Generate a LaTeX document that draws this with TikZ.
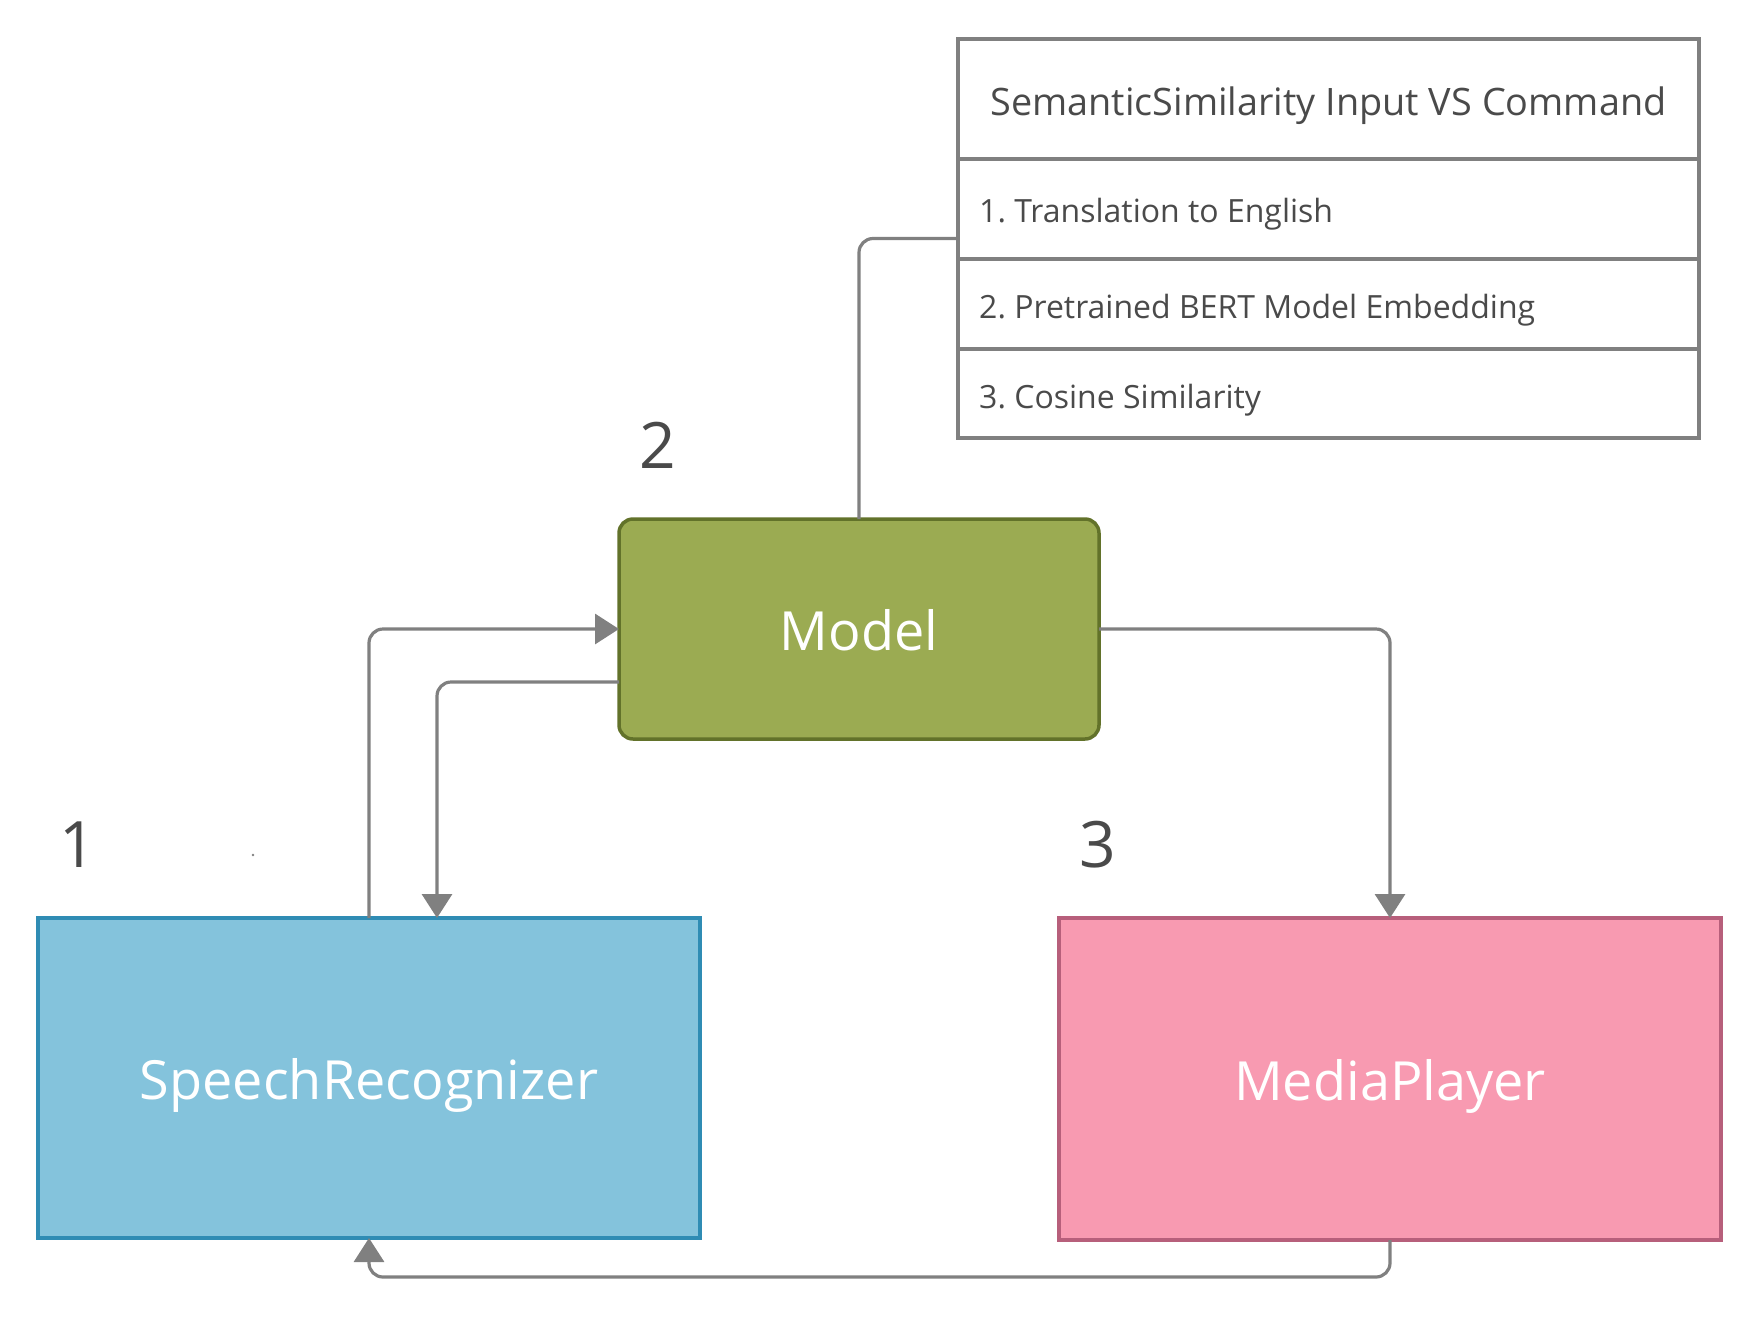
\documentclass[tikz,border=0pt]{standalone}
\usepackage{fontspec}
\setmainfont{Open Sans}
\usetikzlibrary{arrows.meta}
\definecolor{lnc}{HTML}{808080}
\definecolor{txc}{HTML}{4A4A4A}
\definecolor{srfill}{HTML}{84C3DC}
\definecolor{srdraw}{HTML}{2F8CB4}
\definecolor{mofill}{HTML}{9BAB52}
\definecolor{modraw}{HTML}{62722A}
\definecolor{mpfill}{HTML}{F89AB1}
\definecolor{mpdraw}{HTML}{B75F7B}
\frenchspacing
\tikzset{
  box/.style={draw, line width=3.5pt, inner sep=0pt, outer sep=0pt, text=white,
    font=\fontsize{54}{60}\selectfont},
  rowbox/.style={draw=lnc, line width=3.2pt, inner sep=0pt, outer sep=0pt,
    minimum width=741pt, anchor=north west},
  rowtxt/.style={text=txc, anchor=west, inner sep=0pt, font=\fontsize{32}{36}\selectfont},
  conn/.style={draw=lnc, line width=3.2pt, rounded corners=14pt},
  arr/.style={conn, -{Triangle[length=24pt,width=30pt]}},
  numlab/.style={text=txc, font=\fontsize{64}{70}\selectfont, inner sep=0pt},
}
\begin{document}
\begin{tikzpicture}[x=1pt,y=-1pt]
\useasboundingbox (0,0) rectangle (1760,1320);
% table
\node[draw=lnc, line width=3.2pt, inner sep=0pt, outer sep=0pt, minimum width=741pt, minimum height=399pt] (tbl) at (1328.5,238.5) {};
\node[rowbox, minimum height=120pt] (ttl) at (958,39) {};
\node[rowbox, minimum height=100pt] (r1) at (958,159) {};
\node[rowbox, minimum height=90pt] (r2) at (958,259) {};
\node[rowbox, minimum height=89pt] (r3) at (958,349) {};
\node[text=txc, inner sep=0pt, font=\fontsize{37.8}{42}\selectfont] (ttltxt) at ([yshift=-6.5pt]ttl.center) {SemanticSimilarity Input VS Command};
\node[rowtxt] (t1) at ([xshift=21pt,yshift=-5pt]r1.west) {1. Translation to English};
\node[rowtxt] (t2) at ([xshift=21pt,yshift=-6pt]r2.west) {2. Pretrained BERT Model Embedding};
\node[rowtxt] (t3) at ([xshift=21pt,yshift=-7pt]r3.west) {3. Cosine Similarity};
% boxes
\node[box, fill=mofill, draw=modraw, rounded corners=14pt, minimum width=480pt, minimum height=220pt] (model) at (859,629) {};
\node[box, fill=srfill, draw=srdraw, minimum width=662pt, minimum height=320pt] (sr) at (369,1078) {};
\node[box, fill=mpfill, draw=mpdraw, minimum width=662pt, minimum height=322pt] (mp) at (1390,1079) {};
\node[text=white, inner sep=0pt, font=\fontsize{54}{60}\selectfont] (modeltxt) at ([yshift=-1.5pt]model.center) {Model};
\node[text=white, inner sep=0pt, font=\fontsize{54}{60}\selectfont] (srtxt) at ([yshift=-7pt]sr.center) {SpeechRecognizer};
\node[text=white, inner sep=0pt, font=\fontsize{54}{60}\selectfont] (mptxt) at ([yshift=-7pt]mp.center) {MediaPlayer};
% numbers
\node[numlab] (n1) at (78,845) {1};
\node[numlab] (n2) at (658,445) {2};
\node[numlab] (n3) at (1098,845) {3};
\fill[lnc] (253,855) circle (1.3pt);
% connectors
\draw[conn] (tbl.west) -| (model.north);
\draw[arr] (sr.north) |- (model.west);
\draw[arr] ([yshift=-53pt]model.west) -| ([xshift=68pt]sr.north);
\draw[arr] (model.east) -| (mp.north);
\draw[arr] (mp.south) -- ++(0,37) coordinate (mpb) -| (sr.south);
\end{tikzpicture}
\end{document}
